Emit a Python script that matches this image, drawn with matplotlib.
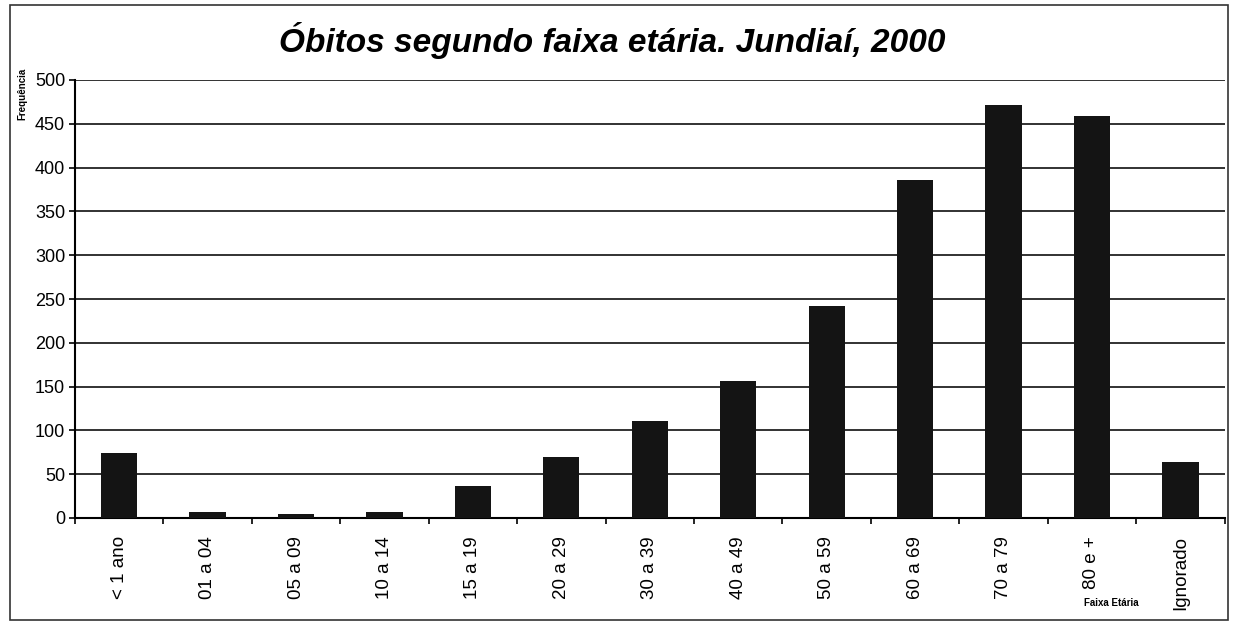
import numpy as np
import matplotlib
matplotlib.use("Agg")
import matplotlib.pyplot as plt
from matplotlib.patches import Rectangle

# ---------------- data ----------------
faixas = ["< 1 ano", "01 a 04", "05 a 09", "10 a 14", "15 a 19", "20 a 29",
          "30 a 39", "40 a 49", "50 a 59", "60 a 69", "70 a 79", "80 e +",
          "Ignorado"]
obitos = [74, 7, 5, 7, 36, 70, 111, 156, 242, 386, 471, 459, 64]
y_ticks = [0, 50, 100, 150, 200, 250, 300, 350, 400, 450, 500]

plt.rcParams['font.family'] = ['Liberation Sans', 'DejaVu Sans']

fig = plt.figure(figsize=(12.37, 6.25), dpi=100)
ax = fig.add_axes([0.0606, 0.1712, 0.9294, 0.7008])

x = np.arange(len(faixas))
ax.bar(x, obitos, width=0.41, color="#141414", zorder=3)

# gridlines
for yv in y_ticks[1:]:
    ax.axhline(yv, color="#222222", lw=1.3, zorder=1)

ax.set_xlim(-0.5, len(faixas) - 0.5)
ax.set_ylim(0, 500)
ax.set_yticks(y_ticks)
ax.set_yticklabels([str(v) for v in y_ticks], fontsize=13)
ax.set_xticks(x)
ax.set_xticklabels(faixas, rotation=90, fontsize=13.5)
ax.tick_params(axis="x", length=0, pad=13)
ax.set_xticks(np.arange(-0.5, len(faixas)), minor=True)
ax.tick_params(axis="x", which="minor", length=4, width=1.2, direction="out")
ax.tick_params(axis="y", length=4, width=1.2, direction="out", pad=3)

for s in ["top", "right"]:
    ax.spines[s].set_visible(False)
ax.spines["left"].set_linewidth(1.5)
ax.spines["bottom"].set_linewidth(1.5)

fig.text(0.495, 0.935, "Óbitos segundo faixa etária. Jundiaí, 2000",
         ha="center", va="center", fontsize=24, fontweight="bold", style="italic")
fig.text(0.018, 0.85, "Frequência", rotation=90, ha="center", va="center",
         fontsize=7, fontweight="bold")
fig.text(0.898, 0.035, "Faixa Etária", ha="center", va="center",
         fontsize=7, fontweight="bold")

# frame around the chart
fig.patches.append(Rectangle((0.008, 0.008), 0.985, 0.984, transform=fig.transFigure,
                             fill=False, edgecolor="#333333", lw=1.2))

fig.savefig("out.png", dpi=100)
